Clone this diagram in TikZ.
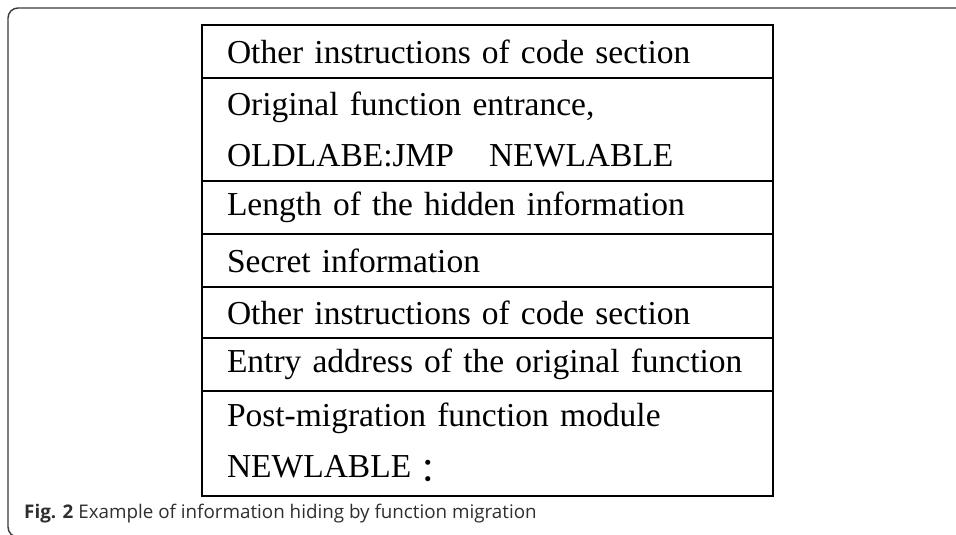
\documentclass[tikz,border=0pt]{standalone}
\usepackage{fontspec}
\setmainfont{Liberation Serif}
\newfontfamily\capfont{Open Sans}
\newfontfamily\cjk{Noto Sans CJK JP}
\usetikzlibrary{positioning}

\definecolor{framegray}{HTML}{3A3A3A}
\definecolor{capgray}{HTML}{2E2E2E}

\tikzset{
    x=1pt, y=1pt,
    row/.style={draw, line width=2.4pt, outer sep=0pt, inner xsep=25pt, inner ysep=0pt,
        text width=521pt, align=left, font=\fontsize{33.5}{51}\selectfont},
    caption/.style={anchor=base west, inner sep=0pt, text=capgray,
        font=\capfont\fontsize{18.8}{22}\selectfont},
}

\begin{document}
\begin{tikzpicture}
    \clip (0,0) rectangle (956,535);

    % Outer frame
    \draw[framegray, line width=1.4pt, rounded corners=10pt] (8,-2) rectangle (990,527);

    % Memory layout of the code section
    \node[row, minimum height=53pt, anchor=north west] (r1) at (202,510) {Other instructions of code section};
    \node[row, minimum height=103pt, below=0pt of r1] (r2) {Original function entrance,\\OLDLABE:JMP\hspace{1.05em}NEWLABLE};
    \node[row, minimum height=53pt, below=0pt of r2] (r3) {Length of the hidden information};
    \node[row, minimum height=53pt, below=0pt of r3] (r4) {Secret information};
    \node[row, minimum height=51pt, below=0pt of r4] (r5) {Other instructions of code section};
    \node[row, minimum height=53pt, below=0pt of r5] (r6) {Entry address of the original function};
    \node[row, minimum height=105pt, below=0pt of r6] (r7) {Post-migration function module\\NEWLABLE\raisebox{-0.18em}{\cjk ：}};

    % Caption
    \node[caption] (cap) at (24,16) {\textbf{Fig. 2} Example of information hiding by function migration};
\end{tikzpicture}
\end{document}
